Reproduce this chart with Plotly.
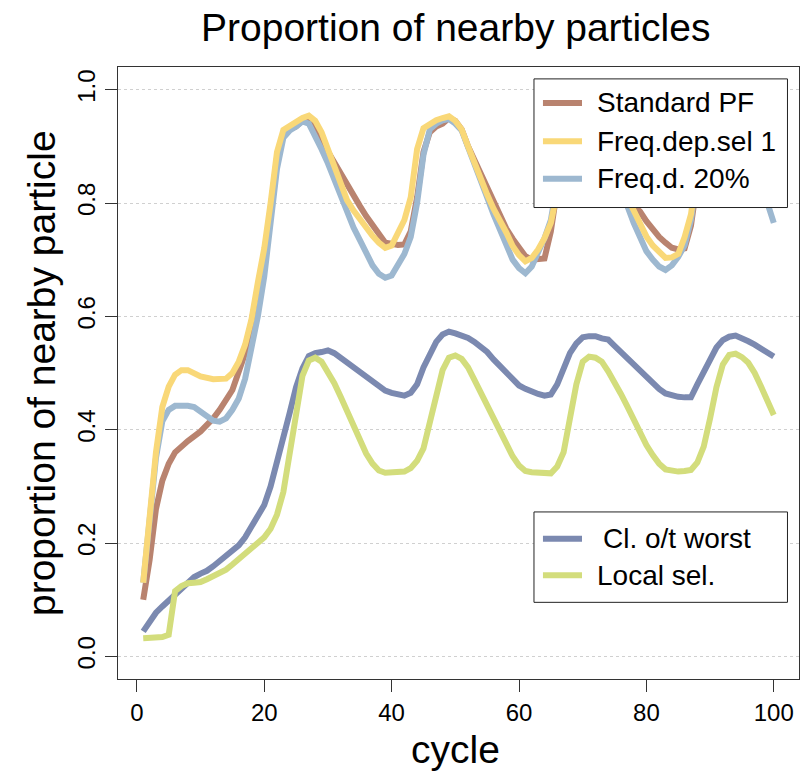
import plotly.graph_objects as go

# ---------------- data ----------------
std_x = [1,2,3,4,5,6,8,10,12,13,15,16,17,18,19,20,21,22,23,24,25,26,27,28,29,30,31,32,33,34,35,36,37,38,39,40,41,42,43,44,45,46,47,48,49,50,51,52,53,54,55,56,57,58,59,60,61,62,63,64,65,66,67,68,70,71,72,74,76,77,78,79,80,81,82,83,84,85,86,87,88,89,91,93,95,97,100]
std_y = [0.10,0.17,0.26,0.31,0.34,0.36,0.38,0.397,0.42,0.435,0.47,0.50,0.535,0.59,0.65,0.71,0.79,0.88,0.92,0.93,0.935,0.945,0.95,0.935,0.91,0.89,0.873,0.85,0.835,0.815,0.795,0.777,0.76,0.745,0.73,0.728,0.726,0.727,0.75,0.81,0.89,0.925,0.935,0.94,0.95,0.945,0.93,0.90,0.875,0.85,0.826,0.80,0.776,0.755,0.737,0.72,0.706,0.70,0.70,0.702,0.75,0.82,0.90,0.93,0.945,0.95,0.945,0.91,0.85,0.81,0.795,0.785,0.768,0.753,0.74,0.73,0.721,0.718,0.72,0.76,0.84,0.90,0.935,0.95,0.93,0.89,0.84]

fd1_x = [1,2,3,4,5,6,7,8,9,10,12,14,15,16,17,18,19,20,21,22,23,24,25,26,27,28,29,30,31,32,33,34,35,36,37,38,39,40,41,42,43,44,45,46,47,48,49,50,51,52,53,54,55,56,57,58,59,60,61,62,63,64,65,66,67,68,70,71,73,75,77,78,79,80,81,82,83,84,85,86,87,88,89,91,93,95,97,100]
fd1_y = [0.13,0.25,0.36,0.44,0.476,0.497,0.505,0.505,0.498,0.494,0.489,0.49,0.50,0.52,0.55,0.595,0.66,0.72,0.80,0.89,0.929,0.937,0.944,0.95,0.954,0.945,0.925,0.895,0.87,0.835,0.805,0.787,0.771,0.757,0.742,0.73,0.721,0.725,0.75,0.77,0.81,0.895,0.932,0.94,0.946,0.95,0.953,0.945,0.93,0.90,0.87,0.845,0.815,0.79,0.771,0.748,0.724,0.708,0.697,0.703,0.718,0.738,0.765,0.82,0.90,0.935,0.95,0.955,0.93,0.88,0.81,0.788,0.765,0.741,0.725,0.712,0.703,0.704,0.71,0.74,0.78,0.86,0.91,0.94,0.955,0.935,0.90,0.85]

fd20_x = [1,2,3,4,5,6,7,8,9,10,11,12,13,14,15,16,17,18,19,20,21,22,23,24,25,26,27,28,29,30,31,32,33,34,35,36,37,38,39,40,41,42,43,44,45,46,47,48,49,50,51,52,53,54,55,56,57,58,59,60,61,62,63,64,65,66,67,68,70,72,74,76,77,78,79,80,81,82,83,84,85,86,87,88,89,91,93,95,97,99,100]
fd20_y = [0.13,0.25,0.35,0.415,0.435,0.442,0.443,0.442,0.44,0.433,0.425,0.416,0.414,0.42,0.435,0.455,0.49,0.54,0.60,0.67,0.76,0.86,0.915,0.928,0.935,0.944,0.94,0.92,0.895,0.87,0.84,0.81,0.78,0.757,0.735,0.71,0.69,0.675,0.668,0.672,0.693,0.71,0.74,0.80,0.885,0.93,0.94,0.946,0.948,0.94,0.928,0.90,0.87,0.84,0.81,0.78,0.753,0.726,0.70,0.685,0.676,0.688,0.712,0.738,0.77,0.83,0.90,0.93,0.945,0.94,0.90,0.84,0.795,0.765,0.74,0.715,0.70,0.688,0.682,0.69,0.705,0.725,0.77,0.85,0.90,0.935,0.945,0.92,0.87,0.795,0.765]

cl_x = list(range(1, 101))
cl_y = [0.044,0.062,0.077,0.088,0.099,0.11,0.12,0.13,0.14,0.146,
        0.151,0.159,0.168,0.176,0.185,0.196,0.21,0.228,0.246,0.267,
        0.30,0.347,0.39,0.43,0.475,0.508,0.53,0.535,0.537,0.54,
        0.535,0.527,0.518,0.51,0.50,0.492,0.484,0.476,0.469,0.465,
        0.462,0.46,0.465,0.48,0.51,0.535,0.555,0.568,0.573,0.57,
        0.567,0.562,0.555,0.547,0.537,0.524,0.512,0.50,0.489,0.478,
        0.472,0.467,0.463,0.46,0.462,0.48,0.506,0.535,0.552,0.563,
        0.565,0.565,0.561,0.559,0.548,0.537,0.527,0.518,0.506,0.495,
        0.483,0.472,0.464,0.46,0.458,0.457,0.457,0.48,0.50,0.522,
        0.545,0.558,0.564,0.566,0.562,0.556,0.55,0.543,0.536,0.529]

loc_x = [1,3,4,5] + list(range(6, 101))
loc_y = [0.032,0.032,0.034,0.038,
         0.115,0.124,0.129,0.13,0.131,0.136,0.141,0.147,0.153,0.162,
         0.172,0.183,0.193,0.202,0.21,0.225,0.25,0.29,0.36,0.435,
         0.495,0.522,0.527,0.52,0.503,0.482,0.458,0.432,0.406,0.38,
         0.358,0.34,0.328,0.324,0.324,0.325,0.326,0.332,0.345,0.367,
         0.41,0.46,0.505,0.527,0.531,0.525,0.51,0.488,0.466,0.442,
         0.418,0.397,0.374,0.353,0.337,0.327,0.325,0.324,0.322,0.323,
         0.335,0.36,0.42,0.48,0.52,0.529,0.527,0.52,0.503,0.485,
         0.463,0.441,0.418,0.394,0.373,0.355,0.34,0.33,0.327,0.326,
         0.327,0.329,0.342,0.37,0.42,0.475,0.515,0.532,0.534,0.528,
         0.518,0.50,0.476,0.45,0.426]

x_ticks = [0, 20, 40, 60, 80, 100]
y_ticks = [0.0, 0.2, 0.4, 0.6, 0.8, 1.0]
y_tick_labels = ["0.0", "0.2", "0.4", "0.6", "0.8", "1.0"]

colors = {"Standard PF": "#B9836F", "Freq.dep.sel 1": "#F9D878",
          "Freq.d. 20%": "#9DB8D0", "Cl. o/t worst": "#7B89B0",
          "Local sel.": "#D3DD7C"}

FONT = "Liberation Sans, Arial, Helvetica, sans-serif"

fig = go.Figure()
series = [("Standard PF", std_x, std_y), ("Freq.d. 20%", fd20_x, fd20_y),
          ("Freq.dep.sel 1", fd1_x, fd1_y), ("Cl. o/t worst", cl_x, cl_y),
          ("Local sel.", loc_x, loc_y)]
for nm, xs, ys in series:
    fig.add_trace(go.Scatter(x=xs, y=ys, mode="lines", name=nm,
                             line=dict(color=colors[nm], width=6),
                             showlegend=False))

# ---------------- legends (boxes drawn in data coordinates) ----------------
shapes = []
annotations = []
legend_groups = [
    (["Standard PF", "Freq.dep.sel 1", "Freq.d. 20%"], 1.019, 0.792, [0.9765, 0.9088, 0.843], [72.0, 72.0, 72.0]),
    (["Cl. o/t worst", "Local sel."], 0.2548, 0.0953, [0.2077, 0.1429], [72.8, 72.0]),
]
for labels, ytop, ybot, ys, txs in legend_groups:
    shapes.append(dict(type="rect", xref="x", yref="y", x0=62.35, x1=102.15,
                       y0=ybot, y1=ytop, fillcolor="white",
                       line=dict(color="#222", width=1), layer="above"))
    for lab, yy, tx in zip(labels, ys, txs):
        shapes.append(dict(type="line", xref="x", yref="y", x0=63.76, x1=69.89,
                           y0=yy, y1=yy, line=dict(color=colors[lab], width=6),
                           layer="above"))
        annotations.append(dict(text=lab, xref="x", yref="y", x=tx, y=yy,
                                xanchor="left", yanchor="middle", showarrow=False,
                                font=dict(size=28, color="black", family=FONT)))

# titles
annotations.append(dict(text="Proportion of nearby particles", xref="paper", yref="paper",
                        x=0.495, y=1.065, xanchor="center", yanchor="middle",
                        showarrow=False, font=dict(size=39, color="black", family=FONT)))
annotations.append(dict(text="cycle", xref="paper", yref="paper",
                        x=0.495, y=-0.116, xanchor="center", yanchor="middle",
                        showarrow=False, font=dict(size=39, color="black", family=FONT)))
annotations.append(dict(text="proportion of nearby particle", xref="paper", yref="paper",
                        x=-0.113, y=0.5, xanchor="center", yanchor="middle", textangle=-90,
                        showarrow=False, font=dict(size=39, color="black", family=FONT)))

fig.update_layout(
    width=801, height=777,
    margin=dict(l=118, r=2, t=67, b=98),
    paper_bgcolor="white", plot_bgcolor="white",
    font=dict(family=FONT, color="black"),
    shapes=shapes, annotations=annotations,
    showlegend=False,
)
fig.update_xaxes(range=[-2.96, 103.96], tickmode="array", tickvals=x_ticks,
                 ticks="outside", ticklen=12, tickcolor="#333", tickwidth=1,
                 showline=True, linecolor="#333", linewidth=1, mirror=True,
                 showgrid=False, zeroline=False,
                 tickfont=dict(size=24, family=FONT, color="black"))
fig.update_yaxes(range=[-0.04, 1.04], tickmode="array", tickvals=y_ticks,
                 ticktext=y_tick_labels, tickangle=-90,
                 ticks="outside", ticklen=12, tickcolor="#333", tickwidth=1,
                 showline=True, linecolor="#333", linewidth=1, mirror=True,
                 showgrid=True, gridcolor="#d0d0d0", griddash="dot", gridwidth=1,
                 zeroline=False,
                 tickfont=dict(size=24, family=FONT, color="black"))

fig.write_html("out.html")
